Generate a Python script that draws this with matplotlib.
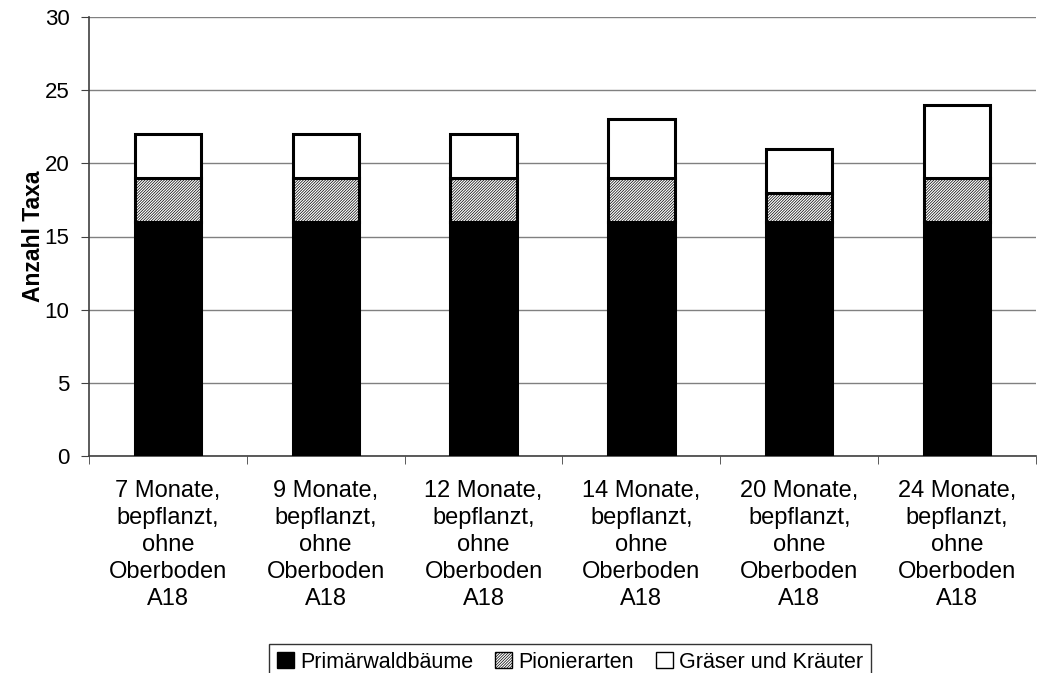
import matplotlib.pyplot as plt
import numpy as np

plt.rcParams['font.family'] = ['Liberation Sans', 'DejaVu Sans']
plt.rcParams['hatch.color'] = '#5a5a5a'
plt.rcParams['hatch.linewidth'] = 0.5

# Anzahl Taxa je Aufnahme
labels = ['7 Monate,\nbepflanzt,\nohne\nOberboden\nA18',
          '9 Monate,\nbepflanzt,\nohne\nOberboden\nA18',
          '12 Monate,\nbepflanzt,\nohne\nOberboden\nA18',
          '14 Monate,\nbepflanzt,\nohne\nOberboden\nA18',
          '20 Monate,\nbepflanzt,\nohne\nOberboden\nA18',
          '24 Monate,\nbepflanzt,\nohne\nOberboden\nA18']
primaer = [16, 16, 16, 16, 16, 16]
pionier = [3, 3, 3, 3, 2, 3]
graeser = [3, 3, 3, 4, 3, 5]

x = np.arange(len(labels))
w = 0.42

fig = plt.figure(figsize=(10.59, 6.73), dpi=100)
ax = fig.add_axes([89 / 1059, 1 - 456 / 673, (1036 - 89) / 1059, (456 - 17) / 673])

b1 = ax.bar(x, primaer, w, color='black', edgecolor='black', linewidth=2.2,
            label='Primärwaldbäume', zorder=3)
b2 = ax.bar(x, pionier, w, bottom=primaer, color='white', edgecolor='black',
            hatch='////////////', linewidth=2.2, label='Pionierarten', zorder=3)
bottom2 = [a + b for a, b in zip(primaer, pionier)]
b3 = ax.bar(x, graeser, w, bottom=bottom2, color='white', edgecolor='black',
            linewidth=2.2, label='Gräser und Kräuter', zorder=3)

ax.set_xlim(-0.5, len(labels) - 0.5)
ax.set_ylim(0, 30)
ax.set_yticks(range(0, 31, 5))
ax.yaxis.grid(True, color='#808080', linewidth=1)
ax.set_axisbelow(True)

ax.set_xticks(x)
ax.set_xticklabels(labels, fontsize=17, linespacing=1.3)
ax.set_xticks(np.arange(-0.5, len(labels)), minor=True)
ax.tick_params(axis='x', which='major', length=0, pad=17)
ax.tick_params(axis='x', which='minor', length=6, direction='out', color='#404040')
ax.tick_params(axis='y', labelsize=16, length=6, direction='out', color='#404040', pad=8)

for s in ['top', 'right']:
    ax.spines[s].set_visible(False)
ax.spines['left'].set_color('#404040')
ax.spines['bottom'].set_color('#404040')
ax.spines['left'].set_linewidth(1.2)
ax.spines['bottom'].set_linewidth(1.2)

ax.set_ylabel('Anzahl Taxa', fontsize=16.5, fontweight='bold', labelpad=0)

leg = fig.legend(handles=[b1, b2, b3], loc='upper center',
                 bbox_to_anchor=(570 / 1059, 1 - 644 / 673), ncol=3, fontsize=15.5,
                 frameon=True, fancybox=False, edgecolor='black',
                 handlelength=0.8, handleheight=0.8, handletextpad=0.3,
                 columnspacing=1.0, borderpad=0.35, borderaxespad=0)
leg.get_frame().set_linewidth(1)
for h in leg.legend_handles:
    h.set_linewidth(1)

fig.savefig('out.png', dpi=100)
